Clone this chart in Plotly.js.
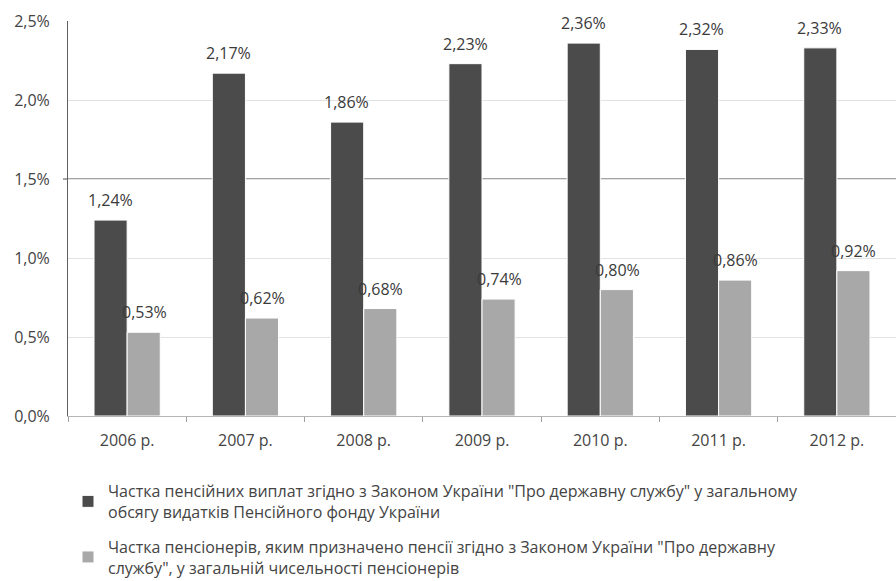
<!DOCTYPE html>
<html>
<head>
<meta charset="utf-8">
<script src="https://cdn.plot.ly/plotly-3.0.1.min.js"></script>
<style>html,body{margin:0;padding:0;background:#fff;}#chart{width:896px;height:581px;}</style>
</head>
<body>
<div id="chart"></div>
<script>
const years = ["2006 р.", "2007 р.", "2008 р.", "2009 р.", "2010 р.", "2011 р.", "2012 р."];
const paymentsShare = [1.24, 2.17, 1.86, 2.23, 2.36, 2.32, 2.33];
const pensionersShare = [0.53, 0.62, 0.68, 0.74, 0.80, 0.86, 0.92];
const seriesNames = [
  'Частка пенсійних виплат згідно з Законом України "Про державну службу" у загальному<br>обсягу видатків Пенсійного фонду України',
  'Частка пенсіонерів, яким призначено пенсії згідно з Законом України "Про державну<br>службу", у загальній чисельності пенсіонерів'
];
const yTicks = [0, 0.5, 1.0, 1.5, 2.0, 2.5];
const yTickLabels = ["0,0%", "0,5%", "1,0%", "1,5%", "2,0%", "2,5%"];
const highlightGridValue = 1.5;

const fmt = v => v.toFixed(2).replace('.', ',') + '%';
const FONT = '"Open Sans", Lato, sans-serif';

const traces = [
  {type: 'bar', x: years, y: paymentsShare, name: seriesNames[0], legendgroup: 'a',
   marker: {color: '#4b4b4b', line: {color: '#ffffff', width: 1}}, hoverinfo: 'skip'},
  {type: 'bar', x: years, y: pensionersShare, name: seriesNames[1], legendgroup: 'b',
   marker: {color: '#a8a8a8', line: {color: '#ffffff', width: 1}}, hoverinfo: 'skip'}
];

const annotations = [];
[[paymentsShare, -17], [pensionersShare, 17]].forEach(([vals, dx]) => {
  vals.forEach((v, i) => {
    annotations.push({x: years[i], y: v, xref: 'x', yref: 'y', text: fmt(v),
      showarrow: false, yanchor: 'bottom', yshift: 7, xshift: dx,
      font: {family: FONT, size: 16, color: '#3a3a3a'}});
  });
});

const layout = {
  width: 896, height: 581,
  margin: {l: 68, r: 0, t: 21, b: 165, autoexpand: false},
  paper_bgcolor: '#fff', plot_bgcolor: '#fff',
  font: {family: FONT, size: 14, color: '#444'},
  separators: ', ',
  barmode: 'group', bargap: 0.44, bargroupgap: 0,
  showlegend: true,
  legend: {orientation: 'v', x: 0, xanchor: 'left', y: -0.147, yanchor: 'top',
    font: {family: FONT, size: 16, color: '#444'}, tracegroupgap: 11,
    traceorder: 'grouped', itemwidth: 30},
  xaxis: {type: 'category', showline: true, linecolor: '#b5b5b5', linewidth: 1,
    ticks: 'outside', tickson: 'boundaries', ticklen: 5, tickcolor: '#a0a0a0',
    ticklabelstandoff: 10,
    showgrid: false, tickfont: {family: FONT, size: 16, color: '#444'}, fixedrange: true},
  yaxis: {range: [0, 2.5], tickvals: yTicks, ticktext: yTickLabels,
    showline: true, linecolor: '#606060', linewidth: 1, gridcolor: '#e2e2e2',
    zeroline: false, ticks: '', ticklabelstandoff: 14,
    tickfont: {family: FONT, size: 16, color: '#444'}, fixedrange: true},
  shapes: [{type: 'line', layer: 'below', xref: 'paper', yref: 'y',
    x0: -5 / 828, x1: 1, y0: highlightGridValue, y1: highlightGridValue,
    line: {color: '#4a4a4a', width: 1}}],
  annotations: annotations
};

Plotly.newPlot('chart', traces, layout, {displayModeBar: false, staticPlot: true});
</script>
</body>
</html>
